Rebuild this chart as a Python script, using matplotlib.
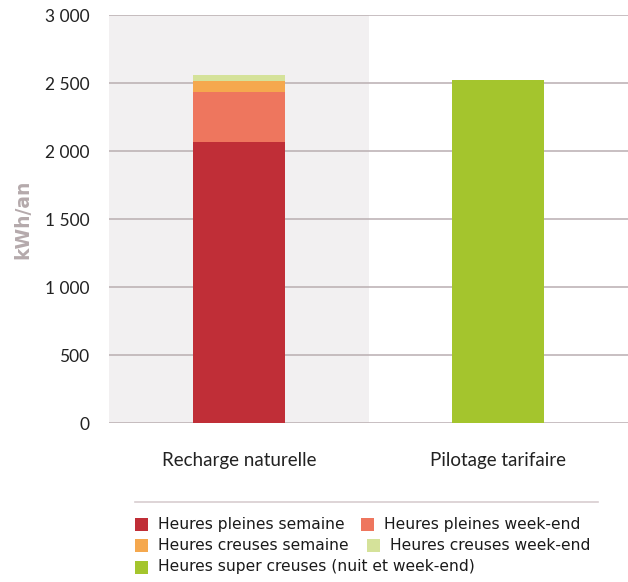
import matplotlib
matplotlib.use("Agg")
import matplotlib.pyplot as plt
from matplotlib.patches import Rectangle
from matplotlib.lines import Line2D

categories = ["Recharge naturelle", "Pilotage tarifaire"]
series_labels = [
    "Heures pleines semaine",
    "Heures pleines week-end",
    "Heures creuses semaine",
    "Heures creuses week-end",
    "Heures super creuses (nuit et week-end)",
]
hp_semaine = [2068, 0]
hp_weekend = [366, 0]
hc_semaine = [81, 0]
hc_weekend = [44, 0]
hsc = [0, 2522]
series_values = [hp_semaine, hp_weekend, hc_semaine, hc_weekend, hsc]
colors = ["#c02e37", "#ee765e", "#f5a84e", "#d5e29a", "#a4c52d"]
yticks = [0, 500, 1000, 1500, 2000, 2500, 3000]
ytick_labels = ["0", "500", "1 000", "1 500", "2 000", "2 500", "3 000"]

fig = plt.figure(figsize=(6.28, 5.82), dpi=100)
ax = fig.add_axes([0.1736, 0.2727, 0.8264, 0.701])

grid_c = "#b9aeb1"
ax.axvspan(-0.5, 0.5, color="#f2f0f1", zorder=0, lw=0)
for y in yticks:
    ax.axhline(y, color=grid_c, lw=1.1, zorder=1)

x = list(range(len(categories)))
bottom = [0] * len(categories)
for vals, c in zip(series_values, colors):
    ax.bar(x, vals, width=0.354, bottom=bottom, color=c, zorder=2, lw=0)
    bottom = [b + v for b, v in zip(bottom, vals)]

ax.set_xlim(-0.5, 1.5)
ax.set_ylim(0, 3000)
ax.set_yticks(yticks)
ax.set_yticklabels(ytick_labels, fontsize=12.5, family="Lato", color="#222222")
ax.set_xticks(x)
ax.set_xticklabels(categories, fontsize=13.5, family="Lato", color="#222222")
ax.tick_params(axis="both", length=0)
ax.tick_params(axis="y", pad=14)
ax.tick_params(axis="x", pad=21)
for s in ax.spines.values():
    s.set_visible(False)

fig.text(0.036, 1 - 219 / 582, "kWh/an", rotation=90, ha="center", va="center",
         fontsize=13.5, fontweight="bold", family="DejaVu Sans", color="#b5aaac")

# legend separator line
fig.add_artist(Line2D([135 / 628, 598 / 628], [1 - 502 / 582, 1 - 502 / 582],
                      color="#d8cdd0", lw=1.2, transform=fig.transFigure))

# legend entries (x px of marker, y px center)
leg_pos = [(135, 524), (361, 524), (135, 545), (367, 545), (135, 567)]
for (px, py), lab, c in zip(leg_pos, series_labels, colors):
    fig.add_artist(Rectangle((px / 628, 1 - (py + 6.5) / 582), 13 / 628, 13 / 582,
                             color=c, transform=fig.transFigure, lw=0))
    fig.text((px + 23) / 628, 1 - py / 582, lab, ha="left", va="center",
             fontsize=11.2, family="DejaVu Sans", color="#1a1a1a")

fig.savefig("out.png", dpi=100)
